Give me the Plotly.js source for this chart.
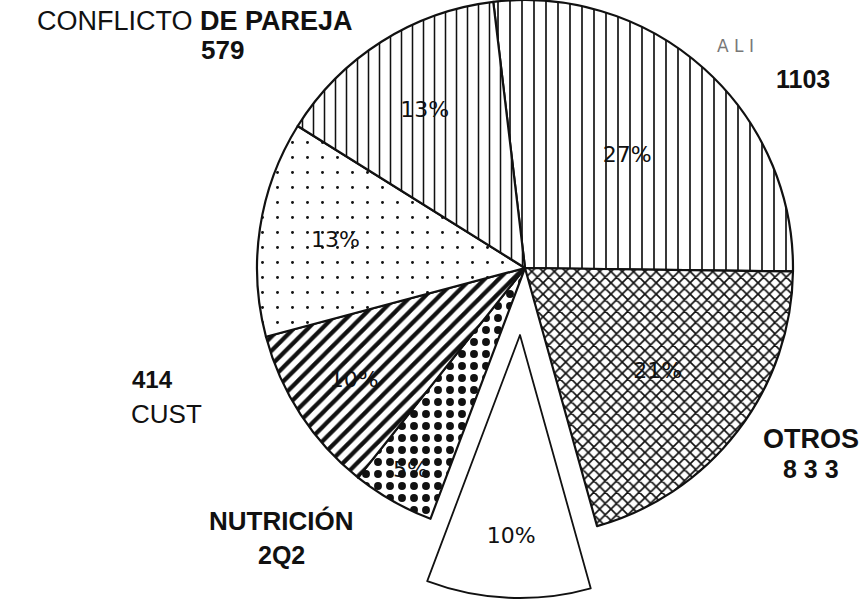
<!DOCTYPE html>
<html>
<head>
<meta charset="utf-8">
<script src="https://cdn.plot.ly/plotly-3.0.1.min.js"></script>
<style>
  html, body { margin: 0; padding: 0; background: #fff; }
  #chart { width: 860px; height: 601px; }
</style>
</head>
<body>
<div id="chart"></div>
<script>
// slices, clockwise from just left of 12 o'clock
const sliceNames = ["ALI", "OTROS", "sin rótulo A", "NUTRICIÓN", "CUST", "sin rótulo B", "CONFLICTO DE PAREJA"];
const sliceValues = [1103, 833, 410, 202, 414, 530, 579];
const pctLabels = ["27%", "21%", "10%", "5%", "10%", "13%", "13%"];
const pulledIndex = 2;

// fill patterns per slice
const patShape = ["|", "x", "", ".", "/", ".", "|"];
const patSize = [12, 8, 10, 12, 10, 15, 11];
const patSolid = [0.14, 0.38, 0.1, 0.34, 0.42, 0.03, 0.14];

const clear = "rgba(0,0,0,0)";
const W = 860, H = 601;

function box(cx, cy, r) {
    return {
        x: [(cx - r) / W, (cx + r) / W],
        y: [(H - (cy + r)) / H, (H - (cy - r)) / H]
    };
}

const pctFont = { family: "DejaVu Sans", size: 22, color: "#111" };

// main pie, with the pulled slice left empty
const mainPie = {
    type: "pie",
    labels: sliceNames,
    values: sliceValues,
    sort: false,
    direction: "clockwise",
    rotation: -6.8,
    domain: box(525, 268, 268),
    text: pctLabels.map((t, i) => i === pulledIndex ? "" : t),
    textinfo: "text",
    textposition: "inside",
    insidetextorientation: "horizontal",
    insidetextfont: pctFont,
    hoverinfo: "none",
    showlegend: false,
    marker: {
        colors: sliceNames.map((n, i) => i === pulledIndex ? clear : "#fff"),
        line: { color: "#111", width: sliceNames.map((n, i) => i === pulledIndex ? 0 : 2.2) },
        pattern: {
            shape: patShape,
            size: patSize,
            solidity: patSolid,
            fgcolor: "#111",
            fgopacity: 1,
            bgcolor: "#fff",
            fillmode: "replace"
        }
    }
};

// the exploded slice, drawn alone on a shifted domain
const pulledPie = {
    type: "pie",
    labels: sliceNames,
    values: sliceValues,
    sort: false,
    direction: "clockwise",
    rotation: -6.8,
    domain: box(520, 335, 263),
    text: pctLabels.map((t, i) => i === pulledIndex ? t : ""),
    textinfo: "text",
    textposition: "inside",
    insidetextorientation: "horizontal",
    insidetextfont: pctFont,
    hoverinfo: "none",
    showlegend: false,
    marker: {
        colors: sliceNames.map((n, i) => i === pulledIndex ? "#fff" : clear),
        line: { color: "#111", width: sliceNames.map((n, i) => i === pulledIndex ? 1.8 : 0) }
    }
};

const lbl = { family: "Liberation Sans, Arial, sans-serif", size: 26, color: "#111" };
function note(x, y, text, extra) {
    return Object.assign({
        xref: "paper", yref: "paper", x: x / W, y: 1 - y / H,
        xanchor: "center", yanchor: "middle",
        text: text, showarrow: false, font: lbl, borderpad: 0
    }, extra || {});
}
function sized(s) { return Object.assign({}, lbl, { size: s }); }

const layout = {
    width: W, height: H,
    margin: { l: 0, r: 0, t: 0, b: 0 },
    paper_bgcolor: "#fff",
    plot_bgcolor: "#fff",
    annotations: [
        note(195, 21, "CONFLICTO <b>DE PAREJA</b>", { font: sized(27) }),
        note(222, 50, "<b>579</b>", { font: sized(26) }),
        note(735, 46, "A L I", { font: { family: "DejaVu Sans", size: 17, color: "#777" } }),
        note(803, 79, "<b>1103</b>", { font: sized(25) }),
        note(152, 379, "<b>414</b>", { font: sized(24) }),
        note(166, 414, "CUST"),
        note(811, 439, "<b>OTROS</b>", { font: sized(27) }),
        note(811, 469, "<b>8 3 3</b>", { font: sized(25) }),
        note(281, 521, "<b>NUTRICIÓN</b>", { font: sized(26) }),
        note(281, 555, "<b>2Q2</b>", { font: sized(25) })
    ]
};

Plotly.newPlot("chart", [mainPie, pulledPie], layout, { displayModeBar: false, staticPlot: true });
</script>
</body>
</html>
